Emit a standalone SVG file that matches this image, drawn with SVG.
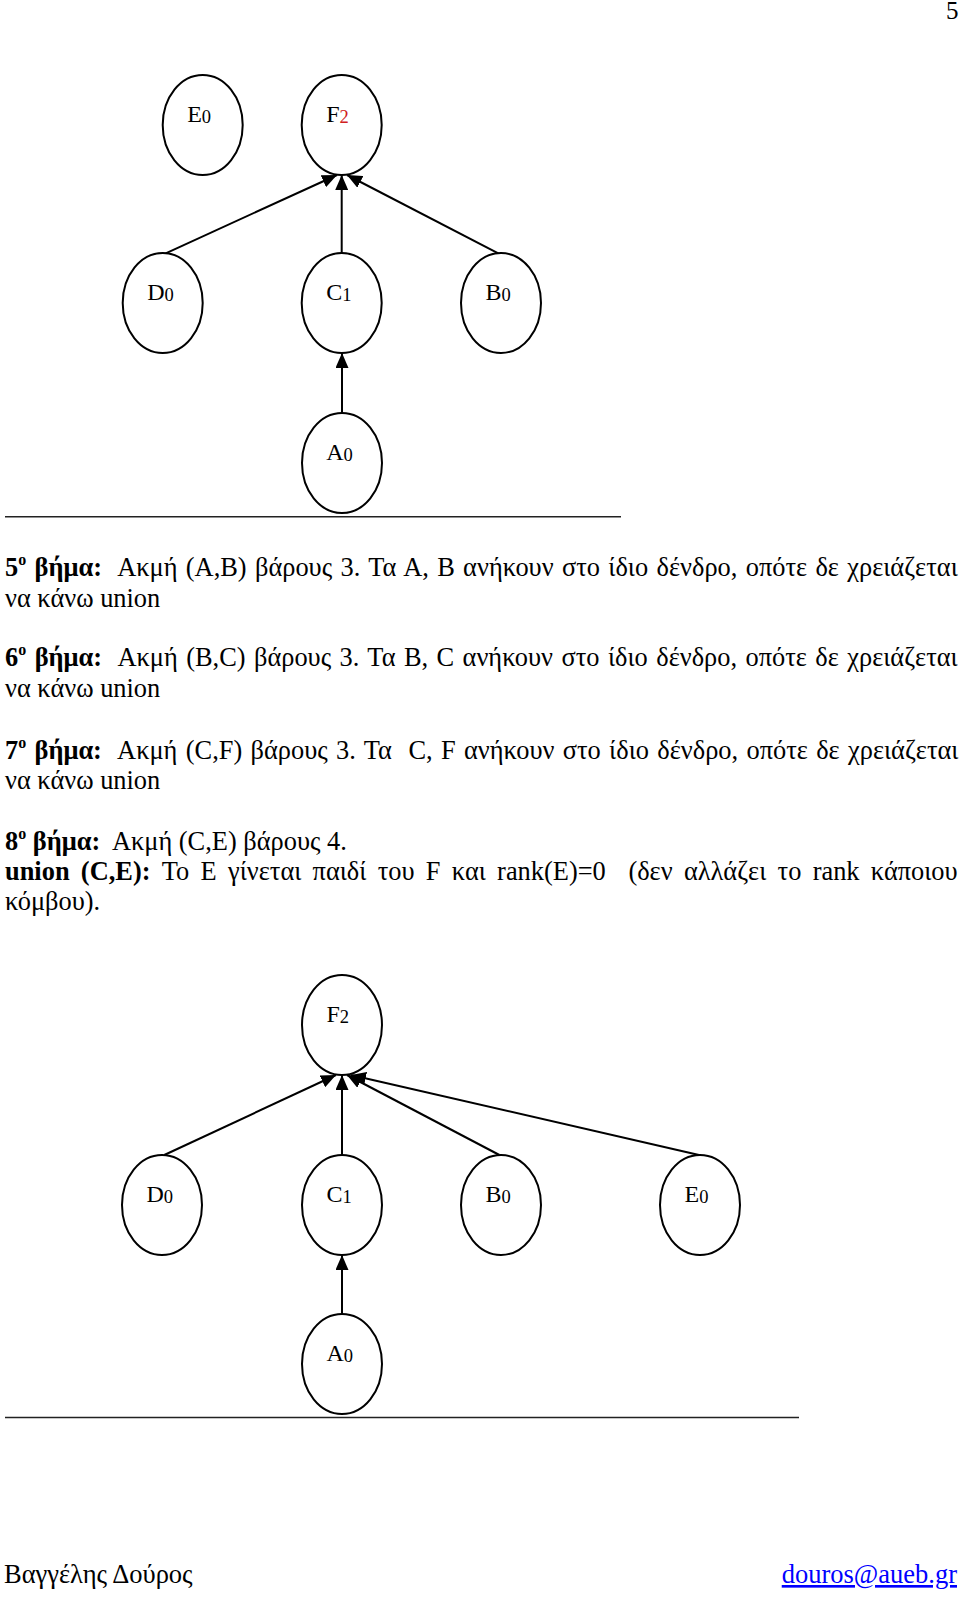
<svg xmlns="http://www.w3.org/2000/svg" width="960" height="1597" viewBox="0 0 960 1597">
<defs>
<marker id="arr" markerUnits="userSpaceOnUse" markerWidth="15" markerHeight="13" refX="15" refY="6.5" orient="auto">
<path d="M0,0 L15,6.5 L0,13 z" fill="#000"/>
</marker>
<style>
.node ellipse{fill:#fff;stroke:#000;stroke-width:2}
.lbl{font-family:"Liberation Serif","Times New Roman",serif;font-size:24px;fill:#000}
.sub{font-size:18.5px}
.red{fill:#d02020}
.conn line{stroke:#000;stroke-width:2;marker-end:url(#arr)}
.body{font-family:"Liberation Serif","Times New Roman",serif;font-size:26.4px;fill:#000;white-space:pre}
.b{font-weight:bold}
.sup{font-size:16px}
.rule{stroke:#222;stroke-width:1.6}
</style>
</defs>
<rect width="960" height="1597" fill="#fff"/>
<text class="body" x="946" y="19" style="font-size:25px">5</text>

<!-- Tree 1 -->
<g id="tree1-connectors" class="conn">
<line x1="165.7" y1="253.3" x2="337" y2="175"/>
<line x1="341.7" y1="253" x2="341.7" y2="175"/>
<line x1="498.3" y1="253.3" x2="347" y2="175"/>
<line x1="342" y1="412.7" x2="342" y2="353"/>
</g>
<g id="t1-E" class="node"><ellipse cx="202.7" cy="125" rx="40" ry="50"/><text class="lbl" x="187.2" y="122">E<tspan class="sub" dy="1">0</tspan></text></g>
<g id="t1-F" class="node"><ellipse cx="341.7" cy="125" rx="40" ry="50"/><text class="lbl" x="326.2" y="122">F<tspan class="sub red" dy="1">2</tspan></text></g>
<g id="t1-D" class="node"><ellipse cx="162.7" cy="303" rx="40" ry="50"/><text class="lbl" x="147.2" y="300">D<tspan class="sub" dy="1">0</tspan></text></g>
<g id="t1-C" class="node"><ellipse cx="341.7" cy="303" rx="40" ry="50"/><text class="lbl" x="326.2" y="300">C<tspan class="sub" dy="1">1</tspan></text></g>
<g id="t1-B" class="node"><ellipse cx="501" cy="303" rx="40" ry="50"/><text class="lbl" x="485.5" y="300">B<tspan class="sub" dy="1">0</tspan></text></g>
<g id="t1-A" class="node"><ellipse cx="342" cy="463" rx="40" ry="50"/><text class="lbl" x="326.2" y="460">A<tspan class="sub" dy="1">0</tspan></text></g>
<line class="rule" x1="5" y1="516.7" x2="621" y2="516.7"/>

<!-- Text -->
<text class="body" x="5" y="576" style="word-spacing:1.75px"><tspan class="b">5</tspan><tspan class="b sup" dy="-11">o</tspan><tspan class="b" dy="11"> βήμα:</tspan>  Ακμή (A,B) βάρους 3. Τα Α, Β ανήκουν στο ίδιο δένδρο, οπότε δε χρειάζεται</text>
<text class="body" x="5" y="607">να κάνω union</text>
<text class="body" x="5" y="666" style="word-spacing:1.84px"><tspan class="b">6</tspan><tspan class="b sup" dy="-11">o</tspan><tspan class="b" dy="11"> βήμα:</tspan>  Ακμή (B,C) βάρους 3. Τα B, C ανήκουν στο ίδιο δένδρο, οπότε δε χρειάζεται</text>
<text class="body" x="5" y="697">να κάνω union</text>
<text class="body" x="5" y="759" style="word-spacing:1.73px"><tspan class="b">7</tspan><tspan class="b sup" dy="-11">o</tspan><tspan class="b" dy="11"> βήμα:</tspan>  Ακμή (C,F) βάρους 3. Τα  C, F ανήκουν στο ίδιο δένδρο, οπότε δε χρειάζεται</text>
<text class="body" x="5" y="789">να κάνω union</text>
<text class="body" x="5" y="850"><tspan class="b">8</tspan><tspan class="b sup" dy="-11">o</tspan><tspan class="b" dy="11"> βήμα:</tspan>  Ακμή (C,E) βάρους 4.</text>
<text class="body" x="5" y="880" style="word-spacing:4.7px"><tspan class="b">union (C,E):</tspan> Το Ε γίνεται παιδί του F και rank(E)=0  (δεν αλλάζει το rank κάποιου</text>
<text class="body" x="5" y="910">κόμβου).</text>

<!-- Tree 2 -->
<g id="tree2-connectors" class="conn">
<line x1="164.3" y1="1155" x2="336" y2="1075"/>
<line x1="342" y1="1155" x2="342" y2="1075"/>
<line x1="499.4" y1="1155" x2="347" y2="1075"/>
<line x1="699" y1="1155" x2="351" y2="1075"/>
<line x1="342" y1="1314" x2="342" y2="1255"/>
</g>
<g id="t2-F" class="node"><ellipse cx="342" cy="1025" rx="40" ry="50"/><text class="lbl" x="326.5" y="1022">F<tspan class="sub" dy="1">2</tspan></text></g>
<g id="t2-D" class="node"><ellipse cx="162" cy="1205" rx="40" ry="50"/><text class="lbl" x="146.5" y="1202">D<tspan class="sub" dy="1">0</tspan></text></g>
<g id="t2-C" class="node"><ellipse cx="342" cy="1205" rx="40" ry="50"/><text class="lbl" x="326.5" y="1202">C<tspan class="sub" dy="1">1</tspan></text></g>
<g id="t2-B" class="node"><ellipse cx="501" cy="1205" rx="40" ry="50"/><text class="lbl" x="485.5" y="1202">B<tspan class="sub" dy="1">0</tspan></text></g>
<g id="t2-E" class="node"><ellipse cx="700" cy="1205" rx="40" ry="50"/><text class="lbl" x="684.5" y="1202">E<tspan class="sub" dy="1">0</tspan></text></g>
<g id="t2-A" class="node"><ellipse cx="342" cy="1364" rx="40" ry="50"/><text class="lbl" x="326.5" y="1361">A<tspan class="sub" dy="1">0</tspan></text></g>
<line class="rule" x1="5" y1="1417.5" x2="799" y2="1417.5"/>

<!-- Footer -->
<text class="body" x="4" y="1583" style="font-size:26.5px">Βαγγέλης Δούρος</text>
<text class="body" x="957" y="1583" text-anchor="end" style="font-size:26.5px;fill:#0000ff;text-decoration:underline">douros@aueb.gr</text>
</svg>
